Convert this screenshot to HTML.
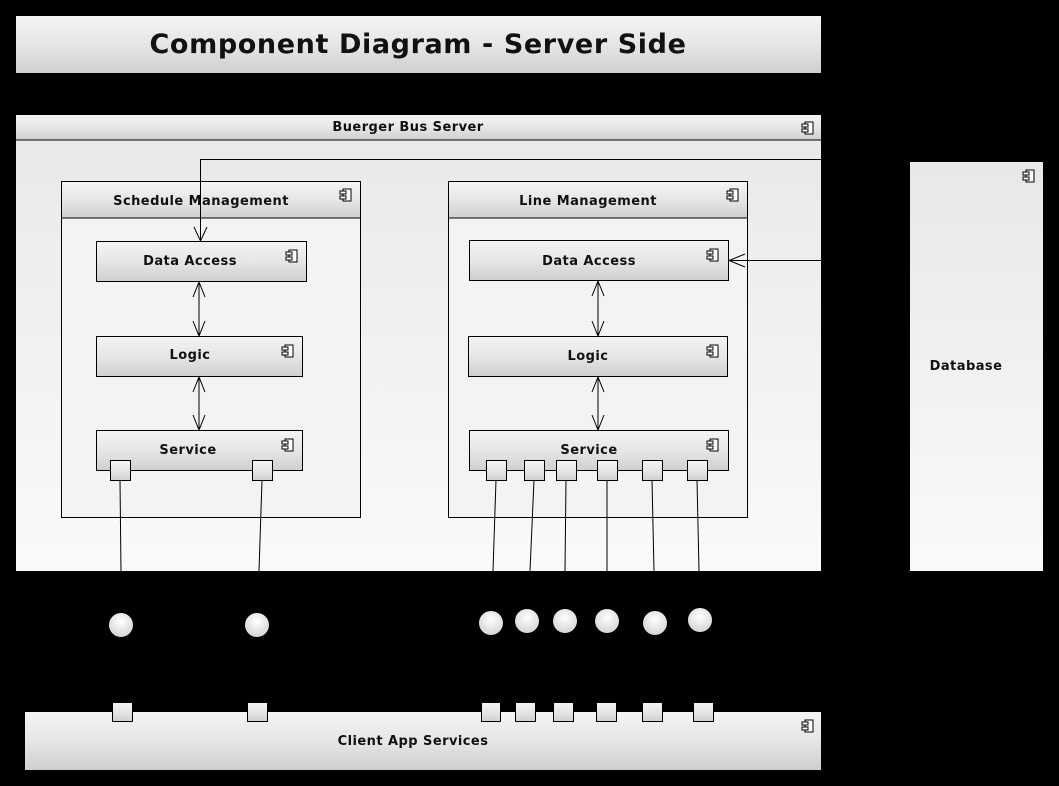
<!DOCTYPE html>
<html><head><style>
body{margin:0;background:#000;width:1059px;height:786px;overflow:hidden}
svg{display:block}
text{font-family:"DejaVu Sans","Liberation Sans",sans-serif;font-weight:bold;fill:#111;letter-spacing:0.45px}
</style></head><body>
<svg width="1059" height="786" viewBox="0 0 1059 786">
<defs>
<linearGradient id="g" x1="0" y1="0" x2="0" y2="1"><stop offset="0" stop-color="#f4f4f4"/><stop offset="0.5" stop-color="#e6e6e6"/><stop offset="1" stop-color="#cfcfcf"/></linearGradient>
<linearGradient id="g2" x1="0" y1="0" x2="0" y2="1"><stop offset="0" stop-color="#e8e8e8"/><stop offset="1" stop-color="#fafafa"/></linearGradient>
<radialGradient id="c" cx="0.5" cy="0.35" r="0.6"><stop offset="0" stop-color="#fff"/><stop offset="1" stop-color="#d8d8d8"/></radialGradient>
<g id="ic"><rect x="0" y="0" width="8" height="12" fill="#fff" stroke="#000" stroke-width="1"/><rect x="-3" y="2" width="6" height="3" fill="#fff" stroke="#000" stroke-width="1"/><rect x="-3" y="7" width="6" height="3" fill="#fff" stroke="#000" stroke-width="1"/></g>
</defs>
<rect x="16" y="16" width="805" height="57" fill="url(#g)"/>
<text x="418" y="53" font-size="27" text-anchor="middle" style="letter-spacing:0.6px">Component Diagram - Server Side</text>
<rect x="16" y="115" width="805" height="456" fill="url(#g2)"/>
<rect x="16" y="115" width="805" height="25" fill="url(#g)"/>
<line x1="16" y1="140" x2="821" y2="140" stroke="#000"/>
<text x="408" y="131" font-size="13" text-anchor="middle">Buerger Bus Server</text>
<use href="#ic" x="805" y="122"/>
<rect x="61.5" y="181.5" width="299" height="336" fill="#f3f3f3" stroke="#000"/>
<rect x="62" y="182" width="298" height="36" fill="url(#g)"/>
<line x1="61" y1="218" x2="361" y2="218" stroke="#000"/>
<text x="201" y="205" font-size="13" text-anchor="middle">Schedule Management</text>
<use href="#ic" x="343" y="189"/>
<rect x="448.5" y="181.5" width="299" height="336" fill="#f3f3f3" stroke="#000"/>
<rect x="449" y="182" width="298" height="36" fill="url(#g)"/>
<line x1="448" y1="218" x2="748" y2="218" stroke="#000"/>
<text x="588" y="205" font-size="13" text-anchor="middle">Line Management</text>
<use href="#ic" x="730" y="189"/>
<g stroke="#000" fill="url(#g)">
<rect x="96.5" y="241.5" width="210" height="40"/>
<rect x="96.5" y="336.5" width="206" height="40"/>
<rect x="96.5" y="430.5" width="206" height="40"/>
<rect x="469.5" y="240.5" width="259" height="40"/>
<rect x="468.5" y="336.5" width="259" height="40"/>
<rect x="469.5" y="430.5" width="259" height="40"/>
</g>
<g font-size="13" text-anchor="middle">
<text x="190" y="265">Data Access</text>
<text x="190" y="359">Logic</text>
<text x="188" y="454">Service</text>
<text x="589" y="265">Data Access</text>
<text x="588" y="360">Logic</text>
<text x="589" y="454">Service</text>
</g>
<use href="#ic" x="289" y="250"/><use href="#ic" x="285" y="345"/><use href="#ic" x="285" y="439"/>
<use href="#ic" x="710" y="249"/><use href="#ic" x="710" y="345"/><use href="#ic" x="710" y="439"/>
<g stroke="#000" fill="none" stroke-width="1">
<polyline points="821,159.5 200.5,159.5 200.5,241"/>
<polyline points="194,227 200.5,241 207,227"/>
<line x1="729" y1="260.5" x2="821" y2="260.5"/>
<polyline points="745,254 729,260.5 745,267"/>
<line x1="199" y1="282" x2="199" y2="336"/><polyline points="193,297 199,282 205,297"/><polyline points="193,321 199,336 205,321"/>
<line x1="199" y1="377" x2="199" y2="430"/><polyline points="193,392 199,377 205,392"/><polyline points="193,415 199,430 205,415"/>
<line x1="598" y1="281" x2="598" y2="336"/><polyline points="592,296 598,281 604,296"/><polyline points="592,321 598,336 604,321"/>
<line x1="598" y1="377" x2="598" y2="430"/><polyline points="592,392 598,377 604,392"/><polyline points="592,415 598,430 604,415"/>
<line x1="120" y1="480" x2="121" y2="571"/>
<line x1="262" y1="480" x2="259" y2="571"/>
<line x1="496" y1="480" x2="493" y2="571"/>
<line x1="534" y1="480" x2="530" y2="571"/>
<line x1="566" y1="480" x2="565" y2="571"/>
<line x1="607" y1="480" x2="607" y2="571"/>
<line x1="652" y1="480" x2="654" y2="571"/>
<line x1="697" y1="480" x2="699" y2="571"/>
</g>
<g stroke="#000" fill="url(#g)">
<rect x="110.5" y="460.5" width="20" height="20"/><rect x="252.5" y="460.5" width="20" height="20"/>
<rect x="486.5" y="460.5" width="20" height="20"/><rect x="524.5" y="460.5" width="20" height="20"/>
<rect x="556.5" y="460.5" width="20" height="20"/><rect x="597.5" y="460.5" width="20" height="20"/>
<rect x="642.5" y="460.5" width="20" height="20"/><rect x="687.5" y="460.5" width="20" height="20"/>
</g>
<g fill="url(#c)">
<circle cx="121" cy="625" r="12"/><circle cx="257" cy="625" r="12"/>
<circle cx="491" cy="623" r="12"/><circle cx="527" cy="621" r="12"/><circle cx="565" cy="621" r="12"/>
<circle cx="607" cy="621" r="12"/><circle cx="655" cy="623" r="12"/><circle cx="700" cy="620" r="12"/>
</g>
<rect x="910" y="162" width="133" height="409" fill="url(#g2)"/>
<text x="966" y="370" font-size="13" text-anchor="middle">Database</text>
<use href="#ic" x="1026" y="170"/>
<rect x="25" y="712" width="796" height="58" fill="url(#g)"/>
<text x="413" y="745" font-size="13" text-anchor="middle">Client App Services</text>
<use href="#ic" x="805" y="720"/>
<g stroke="#000" fill="url(#g)">
<rect x="112.5" y="702.5" width="20" height="19"/><rect x="247.5" y="702.5" width="20" height="19"/>
<rect x="481.5" y="702.5" width="19" height="19"/><rect x="515.5" y="702.5" width="20" height="19"/>
<rect x="553.5" y="702.5" width="20" height="19"/><rect x="596.5" y="702.5" width="20" height="19"/>
<rect x="642.5" y="702.5" width="20" height="19"/><rect x="693.5" y="702.5" width="20" height="19"/>
</g>
</svg>
</body></html>
